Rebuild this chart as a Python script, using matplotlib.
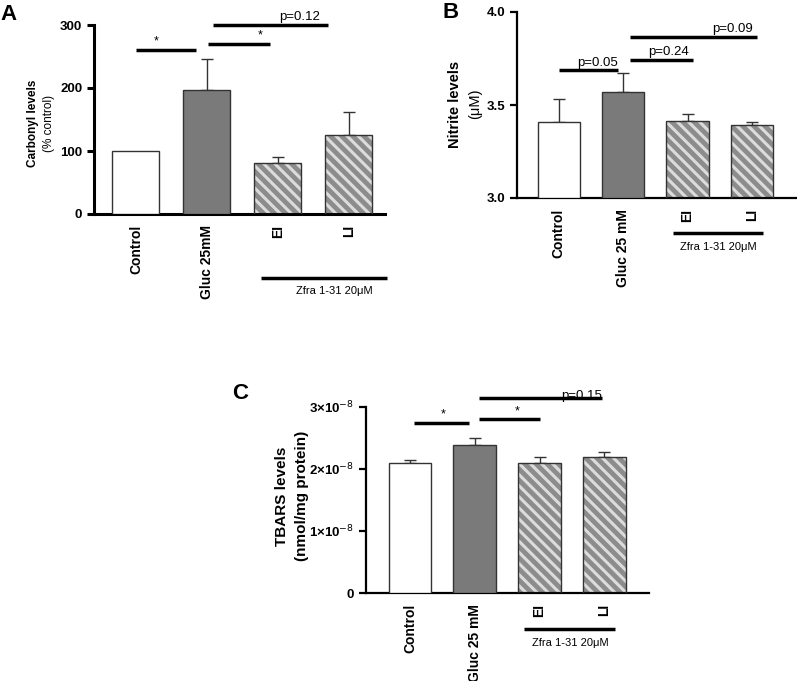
import matplotlib
matplotlib.use("Agg")
import matplotlib.pyplot as plt
import numpy as np

plt.rcParams['font.family'] = ['Liberation Sans', 'DejaVu Sans']
plt.rcParams['hatch.linewidth'] = 2.2

##### data #########

groups = ["Control", "Gluc", "EI", "LI"]

labels_a = ["Control", "Gluc 25mM", "EI", "LI"]
carbonyl_mean = [100, 197, 81, 126]
carbonyl_sem = [0, 49, 9, 36]

labels_b = ["Control", "Gluc 25 mM", "EI", "LI"]
nitrite_mean = [3.41, 3.57, 3.415, 3.39]
nitrite_sem = [0.12, 0.10, 0.035, 0.02]

labels_c = ["Control", "Gluc 25 mM", "EI", "LI"]
tbars_mean = [2.10e-8, 2.39e-8, 2.10e-8, 2.19e-8]
tbars_sem = [0.05e-8, 0.11e-8, 0.09e-8, 0.08e-8]
tbars_ticks = [0, 1e-8, 2e-8, 3e-8]
tbars_ticklabels = ["0", "1×10$^{-8}$", "2×10$^{-8}$", "3×10$^{-8}$"]

# significance brackets: (x0, x1, y, text, text_x)
sig_a = [(0.0, 0.85, 260, "*", 0.28), (1.01, 1.89, 270, "*", 1.75),
         (1.08, 2.70, 300, "p=0.12", 2.59)]
sig_b = [(0.0, 0.92, 3.688, "p=0.05", 0.92), (1.10, 2.08, 3.742, "p=0.24", 2.02),
         (1.10, 3.08, 3.866, "p=0.09", 3.02)]
sig_c = [(0.06, 0.91, 2.74e-8, "*", 0.51), (1.07, 2.0, 2.80e-8, "*", 1.65),
         (1.07, 2.97, 3.145e-8, "p=0.15", 2.97)]

###################

W, H = 797, 681
fig = plt.figure(figsize=(W / 100, H / 100), dpi=100)


def make_ax(left, right, top, bottom):
    return fig.add_axes([left / W, 1 - bottom / H, (right - left) / W, (bottom - top) / H])


def draw_panel(ax, means, sems, labels, xlim, ylim, spine_w):
    x = np.arange(len(means))
    w = 0.66
    colors = ["white", "#7a7a7a", "#8c8c8c", "#8c8c8c"]
    # hatched fill for EI / LI
    for i in range(len(means)):
        if i >= 2:
            ax.bar(x[i], means[i] - ylim[0], w, bottom=ylim[0], color=colors[i],
                   edgecolor="#dcdcdc", hatch="\\\\\\", linewidth=0, zorder=2)
    ax.bar(x, np.array(means) - ylim[0], w, bottom=ylim[0],
           color=[c if i < 2 else "none" for i, c in enumerate(colors)],
           edgecolor="#333333", linewidth=1.0, zorder=3)
    for i in range(len(means)):
        if sems[i] > 0:
            ax.errorbar(x[i], means[i], yerr=[[0], [sems[i]]], fmt="none",
                        ecolor="#333333", elinewidth=1.0, capsize=4.5, capthick=1.0, zorder=1)
    ax.set_xlim(*xlim)
    ax.set_ylim(*ylim)
    ax.set_xticks(x)
    ax.set_xticklabels(labels, rotation=90, fontsize=10, fontweight="bold", va="top")
    ax.tick_params(axis="x", length=0, pad=8)
    ax.tick_params(axis="y", length=5, width=spine_w, labelsize=9.5, direction="out")
    for t in ax.get_yticklabels():
        t.set_fontweight("bold")
    ax.spines["top"].set_visible(False)
    ax.spines["right"].set_visible(False)
    ax.spines["left"].set_linewidth(spine_w)
    ax.spines["bottom"].set_linewidth(spine_w)
    ax.patch.set_alpha(0)


def draw_sig(ax, sigs, span, underline=False):
    for x0, x1, y, txt, tx in sigs:
        ax.plot([x0, x1], [y, y], color="black", linewidth=2.5, clip_on=False,
                solid_capstyle="butt")
        if txt == "*":
            ax.text(tx, y + span * 0.012, txt, ha="center", va="bottom", fontsize=9)
        elif underline:
            ax.text(tx, y - span * 0.004, txt, ha="right", va="baseline", fontsize=9.5)
        else:
            ax.text(tx, y + span * 0.008, txt, ha="right", va="bottom", fontsize=9.5)


def draw_zfra(ax, x0, x1, yline, ytext, xtext):
    tr = ax.get_xaxis_transform()
    ax.plot([x0, x1], [yline, yline], color="black", linewidth=2.5, transform=tr,
            clip_on=False, solid_capstyle="butt")
    ax.text(xtext, ytext, "Zfra 1-31 20μM", transform=tr, ha="center", va="center",
            fontsize=8)


# ---- Panel A
axA = make_ax(94, 385, 25, 214)
draw_panel(axA, carbonyl_mean, carbonyl_sem, labels_a, (-0.59, 3.51), (0, 300), 2.2)
axA.set_yticks([0, 100, 200, 300])
for t in axA.get_yticklabels():
    t.set_fontweight("bold")
draw_sig(axA, sig_a, 300)
draw_zfra(axA, 1.76, 3.54, -0.339, -0.41, 2.8)
axA.text(-0.21, 0.48, "Carbonyl levels", transform=axA.transAxes, rotation=90,
         ha="center", va="center", fontsize=8.5, fontweight="bold")
axA.text(-0.155, 0.48, "(% control)", transform=axA.transAxes, rotation=90,
         ha="center", va="center", fontsize=8.5)
fig.text(0 / W, 1 - 14 / H, "A", fontsize=16, fontweight="bold", va="center", ha="left")

# ---- Panel B
axB = make_ax(517, 797, 12, 198)
draw_panel(axB, nitrite_mean, nitrite_sem, labels_b, (-0.65, 3.7), (3.0, 4.0), 1.6)
axB.set_yticks([3.0, 3.5, 4.0])
axB.set_yticklabels(["3.0", "3.5", "4.0"], fontweight="bold")
draw_sig(axB, sig_b, 1.0)
draw_zfra(axB, 1.77, 3.17, -0.188, -0.263, 2.47)
axB.text(-0.221, 0.505, "Nitrite levels", transform=axB.transAxes, rotation=90,
         ha="center", va="center", fontsize=10.5, fontweight="bold")
axB.text(-0.15, 0.505, "(μM)", transform=axB.transAxes, rotation=90,
         ha="center", va="center", fontsize=10.5)
fig.text(443 / W, 1 - 12 / H, "B", fontsize=16, fontweight="bold", va="center", ha="left")

# ---- Panel C
axC = make_ax(366, 649, 407, 593)
draw_panel(axC, tbars_mean, tbars_sem, labels_c, (-0.68, 3.69), (0, 3e-8), 1.6)
axC.set_yticks(tbars_ticks)
axC.set_yticklabels(tbars_ticklabels, fontweight="bold")
draw_sig(axC, sig_c, 3e-8, underline=True)
draw_zfra(axC, 1.76, 3.17, -0.194, -0.269, 2.47)
axC.text(-0.297, 0.52, "TBARS levels", transform=axC.transAxes, rotation=90,
         ha="center", va="center", fontsize=11, fontweight="bold")
axC.text(-0.226, 0.52, "(nmol/mg protein)", transform=axC.transAxes, rotation=90,
         ha="center", va="center", fontsize=11, fontweight="bold")
fig.text(232 / W, 1 - 393 / H, "C", fontsize=16, fontweight="bold", va="center", ha="left")

fig.savefig("out.png", dpi=100)
